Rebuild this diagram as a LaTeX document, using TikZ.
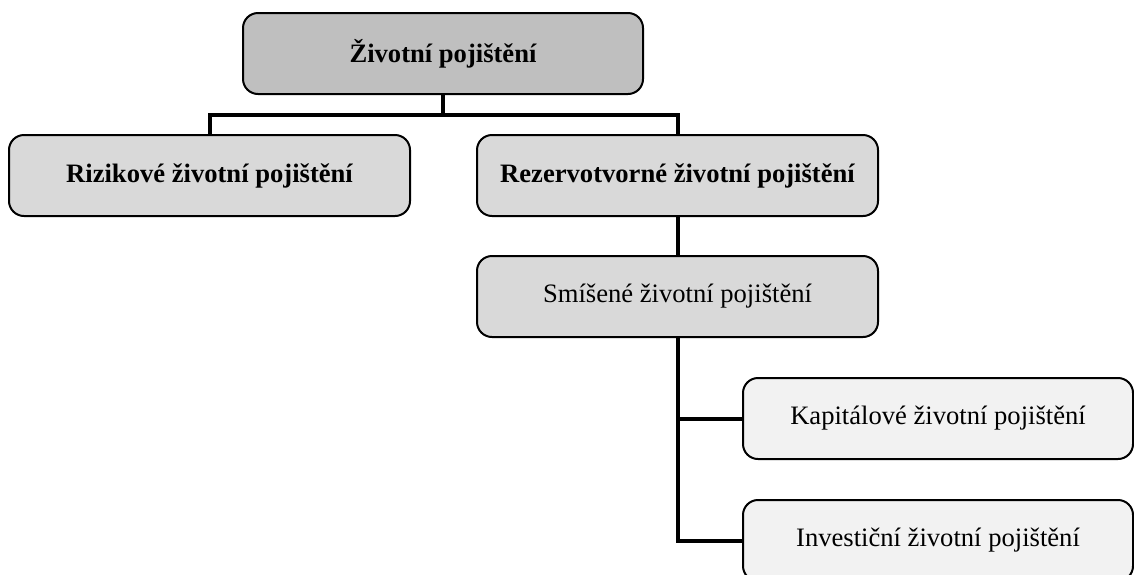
\documentclass[tikz,border=0pt]{standalone}
\usepackage{fontspec}
\setmainfont{Liberation Serif}
\definecolor{rootfill}{HTML}{BFBFBF}
\definecolor{midfill}{HTML}{D9D9D9}
\definecolor{leaffill}{HTML}{F2F2F2}
\begin{document}
\begin{tikzpicture}[x=1pt,y=-1pt,
  box/.style={draw=black, line width=2pt, rounded corners=15pt,
    minimum height=81pt, inner sep=0pt, font=\fontsize{26.6}{30}\selectfont},
  bold/.style={font=\fontsize{26.6}{30}\selectfont\bfseries},
  rootbox/.style={box, bold, fill=rootfill, minimum width=400pt},
  midbox/.style={box, fill=midfill, minimum width=401pt},
  leafbox/.style={box, fill=leaffill, minimum width=390pt},
  conn/.style={draw=black, line width=4pt}]
\useasboundingbox (0,0) rectangle (1134,574);
\clip (0,0) rectangle (1134,574);

% boxes
\node[rootbox] (top) at (443,53.5) {Životní pojištění};
\node[midbox, bold] (riz) at (209.5,175.5) {Rizikové životní pojištění};
\node[midbox, bold] (rez) at (677.5,175.5) {Rezervotvorné životní pojištění};
\node[midbox] (smi) at (677.5,296.5) {Smíšené životní pojištění};
\node[leafbox] (kap) at (938,418.5) {Kapitálové životní pojištění};
\node[leafbox] (inv) at (938,540.5) {Investiční životní pojištění};

% connectors
\coordinate (bus) at (443,115);
\draw[conn] (top.south) -- (bus);
\draw[conn] (bus) -| (riz.north);
\draw[conn] (bus) -| (rez.north);
\draw[conn] (rez.south) -- (smi.north);
\draw[conn] (smi.south) |- (kap.west);
\draw[conn] (smi.south) |- (inv.west);
\end{tikzpicture}
\end{document}
